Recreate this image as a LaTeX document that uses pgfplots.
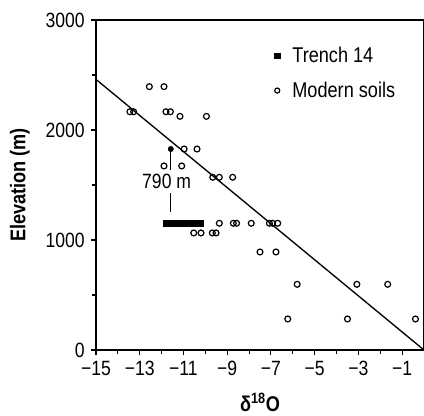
\documentclass[border=0pt]{standalone}
\usepackage{fontspec}
\setmainfont[FakeStretch=0.85]{Liberation Sans}
\usepackage{pgfplots}
\pgfplotsset{compat=1.18}
\begin{document}
\begin{tikzpicture}
\begin{axis}[
  scale only axis,
  width=246pt, height=247.5pt,
  xmin=-15, xmax=0, ymin=0, ymax=3000,
  xtick={-15,-13,-11,-9,-7,-5,-3,-1},
  xticklabels={−15,−13,−11,−9,−7,−5,−3,−1},
  ytick={0,1000,2000,3000},
  yticklabels={0,1000,2000,3000},
  minor x tick num=1, minor y tick num=1,
  tick align=outside, xtick pos=bottom, ytick pos=left,
  major tick length=4pt, minor tick length=3pt,
  every tick/.style={black, line width=0.8pt},
  axis line style={line width=1pt},
  tick label style={font=\fontsize{15.5}{16}\selectfont},
  xticklabel style={yshift=-1pt},
  yticklabel style={xshift=-1pt},
  xlabel={\textbf{δ\textsuperscript{18}O}},
  ylabel={\textbf{Elevation (m)}},
  label style={font=\fontsize{16}{17}\selectfont},
  xlabel style={yshift=-6pt},
  ylabel style={yshift=5pt},
  legend style={draw=none, fill=none, at={(0.53,0.935)}, anchor=north west,
    font=\fontsize{16}{17}\selectfont, row sep=9pt,
    /tikz/every odd column/.append style={column sep=7pt}},
  legend cell align=left,
  clip=false,
]
\addplot[only marks, mark=square*, mark size=2.2pt, black,
  legend image code/.code={\fill[black] (0.03cm,-0.07cm) rectangle (0.17cm,0.07cm);}] coordinates {
  (-11.77,1152) (-11.52,1152) (-11.27,1152) (-11.02,1152) (-10.77,1152) (-10.47,1152) (-10.22,1152)
};
\addlegendentry{Trench 14}
\addplot[only marks, mark=o, mark size=2.2pt, black, line width=0.9pt,
  legend image code/.code={\draw[black, line width=0.9pt] (0.1cm,0cm) circle[radius=1.9pt];}] coordinates {
  (-13.45,2166) (-13.28,2166)
  (-12.56,2394) (-11.89,2394)
  (-11.8,2166) (-11.6,2166) (-11.16,2124) (-9.95,2124)
  (-10.97,1827) (-10.38,1827)
  (-11.89,1673) (-11.08,1673)
  (-9.66,1570) (-9.36,1570) (-8.75,1570)
  (-9.36,1152) (-8.72,1152) (-8.57,1152) (-7.9,1152) (-7.07,1152) (-6.93,1152) (-6.69,1152)
  (-10.53,1064) (-10.2,1064) (-9.68,1064) (-9.51,1064)
  (-7.5,891) (-6.77,891)
  (-5.8,597) (-3.07,597) (-1.66,597)
  (-6.23,282) (-3.5,282) (-0.39,282)
};
\addlegendentry{Modern soils}
\addplot[black, line width=1pt, forget plot] coordinates {(-15,2460) (0,0)};
\addplot[black, only marks, mark=*, mark size=2pt, forget plot] coordinates {(-11.58,1827)};
\addplot[black, line width=1pt, forget plot] coordinates {(-11.58,1827) (-11.58,1636)};
\addplot[black, line width=1pt, forget plot] coordinates {(-11.58,1427) (-11.58,1257)};
\node[font=\fontsize{15.5}{17}\selectfont] at (axis cs:-11.77,1530) {790 m};
\end{axis}
\pgfresetboundingbox
\path ([shift={(-72pt,-49.5pt)}]current axis.south west) rectangle ([shift={(0pt,15pt)}]current axis.north east);
\end{tikzpicture}
\end{document}
